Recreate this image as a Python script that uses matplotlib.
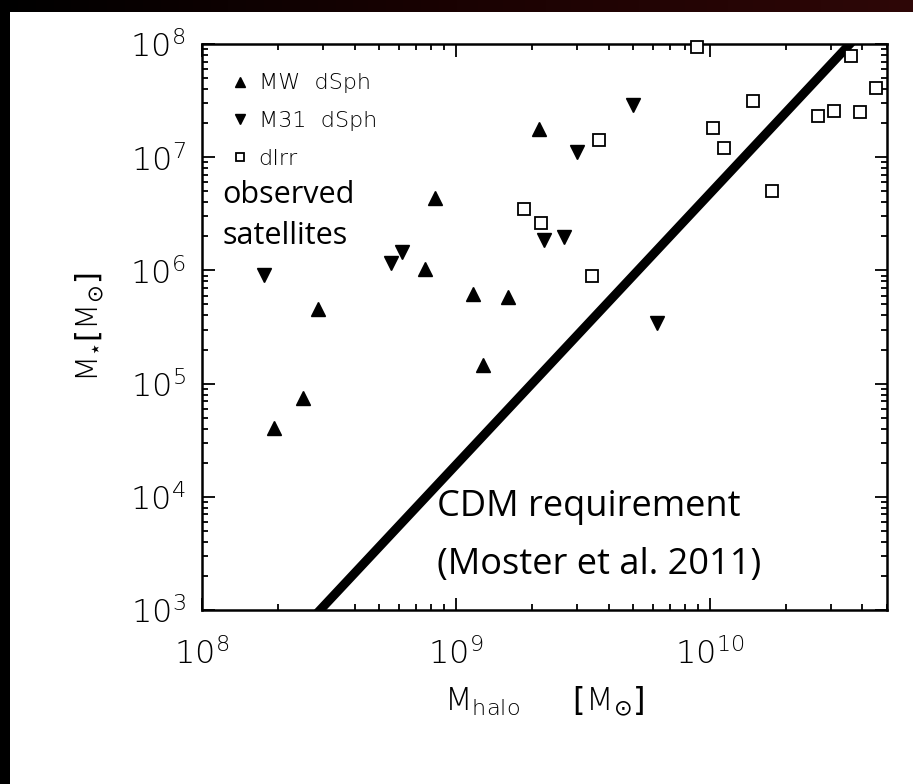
import numpy as np
import matplotlib
matplotlib.use("Agg")
import matplotlib.pyplot as plt
from matplotlib.patches import Rectangle
from matplotlib.colors import LinearSegmentedColormap

# ---------------- data ----------------
mw_mhalo = [1.92e8, 2.50e8, 2.87e8, 1.17e9, 1.61e9, 1.28e9, 7.59e8, 8.30e8, 2.13e9]
mw_mstar = [4.06e4, 7.46e4, 4.56e5, 6.19e5, 5.82e5, 1.46e5, 1.03e6, 4.36e6, 1.78e7]

m31_mhalo = [1.76e8, 5.57e8, 6.15e8, 2.23e9, 2.68e9, 3.01e9, 5.01e9, 6.18e9]
m31_mstar = [9.1e5, 1.16e6, 1.45e6, 1.86e6, 1.97e6, 1.11e7, 2.89e7, 3.43e5]

dirr_mhalo = [1.85e9, 2.17e9, 3.45e9, 3.68e9, 8.89e9, 1.03e10, 1.14e10, 1.48e10,
              1.76e10, 2.67e10, 3.08e10, 3.60e10, 3.91e10, 4.52e10]
dirr_mstar = [3.49e6, 2.62e6, 8.93e5, 1.42e7, 9.4e7, 1.81e7, 1.21e7, 3.14e7,
              5.03e6, 2.31e7, 2.56e7, 7.84e7, 2.51e7, 4.09e7]

cdm_mhalo = [2.92e8, 3.57e10]
cdm_mstar = [1e3, 1e8]

legend_labels = ["MW  dSph", "M31  dSph", "dIrr"]

# ---------------- figure ----------------
W, H = 913, 784
fig = plt.figure(figsize=(W / 100, H / 100), dpi=100)
fig.patch.set_facecolor("white")

# frame decorations of the screenshot
fig.patches.append(Rectangle((0, 0), 10 / W, 1, transform=fig.transFigure,
                             facecolor="black", edgecolor="none", zorder=10))
gax = fig.add_axes([0, 1 - 12 / H, 1, 12 / H])
grad = np.linspace(0, 1, 256)[None, :]
cm = LinearSegmentedColormap.from_list("top", ["#000000", "#1a0202", "#2e0707"])
gax.imshow(grad, aspect="auto", cmap=cm, extent=[0, 1, 0, 1])
gax.set_axis_off()

L, R, T, B = 202, 887, 44, 610
ax = fig.add_axes([L / W, (H - B) / H, (R - L) / W, (B - T) / H])
ax.set_xscale("log")
ax.set_yscale("log")
ax.set_xlim(1e8, 5e10)
ax.set_ylim(1e3, 1e8)

ax.plot(cdm_mhalo, cdm_mstar, color="black", lw=6.5, solid_capstyle="projecting", zorder=2)

ax.plot(mw_mhalo, mw_mstar, ls="none", marker="^", ms=9.5, color="black",
        clip_on=False, zorder=3, label=legend_labels[0])
ax.plot(m31_mhalo, m31_mstar, ls="none", marker="v", ms=9.5, color="black",
        clip_on=False, zorder=3, label=legend_labels[1])
ax.plot(dirr_mhalo, dirr_mstar, ls="none", marker="s", ms=8.3, mfc="white", mec="black",
        mew=1.3, clip_on=False, zorder=3, label=legend_labels[2])

leg = ax.legend(loc="upper left", bbox_to_anchor=(0.042, 0.948), frameon=False,
                borderpad=0, borderaxespad=0, handlelength=0.8, handletextpad=0.45,
                labelspacing=0.79, markerscale=0.7,
                prop=dict(family="DejaVu Sans", weight=200, size=16))

for sp in ax.spines.values():
    sp.set_linewidth(1.8)

ax.tick_params(which="both", direction="in", top=True, right=True, width=1.3)
ax.tick_params(which="major", length=9, labelsize=23)
ax.tick_params(axis="x", which="major", pad=20)
ax.tick_params(axis="y", which="major", pad=12)
ax.tick_params(which="minor", length=4.5)
for lbl in ax.get_xticklabels() + ax.get_yticklabels():
    lbl.set_family("DejaVu Sans")
    lbl.set_weight(200)

ax.set_xlabel(r"$\mathdefault{M}_{\mathdefault{halo}}\ \ \ \ \ "
              r"\left[\mathdefault{M}_{\odot}\right]$",
              fontsize=23, family="DejaVu Sans", weight=200)
ax.xaxis.set_label_coords(0.5, -(684 - B) / (B - T))
ax.set_ylabel(r"$\mathdefault{M}_{\star}\left[\mathdefault{M}_{\odot}\right]$",
              fontsize=22, family="DejaVu Sans", weight=200)
ax.yaxis.set_label_coords(-(L - 106) / (R - L), 0.5)

def px(x, y):
    return ((x - L) / (R - L), (B - y) / (B - T))

ax.text(*px(222, 203), "observed", transform=ax.transAxes, fontsize=22,
        family="Open Sans", va="baseline", ha="left")
ax.text(*px(222, 244), "satellites", transform=ax.transAxes, fontsize=22,
        family="Open Sans", va="baseline", ha="left")
ax.text(*px(437, 516), "CDM requirement", transform=ax.transAxes, fontsize=26,
        family="Open Sans", va="baseline", ha="left")
ax.text(*px(437, 574), "(Moster et al. 2011)", transform=ax.transAxes, fontsize=26,
        family="Open Sans", va="baseline", ha="left")

fig.savefig("out.png", dpi=100, facecolor="white")
